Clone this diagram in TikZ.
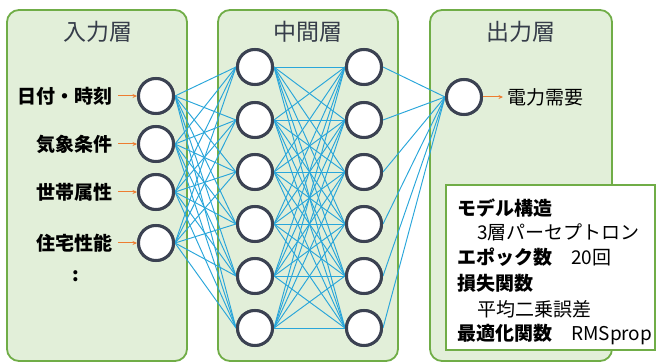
\documentclass[tikz,border=0pt]{standalone}
\usepackage{fontspec}
\setmainfont{Noto Sans CJK JP}
\usetikzlibrary{arrows.meta}
\definecolor{pfill}{HTML}{E2EFD9}
\definecolor{pborder}{HTML}{70AD47}
\definecolor{wire}{HTML}{29A6DA}
\definecolor{ring}{HTML}{3B4252}
\definecolor{arr}{HTML}{ED7D31}
\definecolor{ttl}{HTML}{363D4A}
\begin{document}
\begin{tikzpicture}[x=1pt,y=-1pt,
  panel/.style={draw=pborder, line width=1.8pt, fill=pfill, rounded corners=12pt},
  neuron/.style={circle, draw=ring, line width=3pt, fill=white, minimum size=35pt, inner sep=0pt},
  wirestyle/.style={draw=wire, line width=0.95pt},
  inarrow/.style={draw=arr, line width=1pt, -{Stealth[length=4.5pt,width=4pt]}},
  title/.style={text=ttl, font=\fontsize{23}{26}\selectfont},
  lbl/.style={text=black, font=\fontsize{19}{21}\selectfont\bfseries, inner sep=0pt},
  info/.style={anchor=west, inner sep=0pt, font=\fontsize{19}{21}\selectfont},
  infohead/.style={info, font=\fontsize{19}{21}\selectfont\bfseries},
  infobox/.style={draw=pborder, line width=1.8pt, fill=white}]
\useasboundingbox (0,0) rectangle (657,363);
% panels
\draw[panel] (7,10) rectangle (187,361);
\draw[panel] (218,10) rectangle (398,361);
\draw[panel] (430,10) rectangle (612,361);
\node[title] (t1) at (98,32) {入力層};
\node[title] (t2) at (308,32) {中間層};
\node[title] (t3) at (521,32) {出力層};
% input neurons
\foreach \i/\y in {1/96,2/144,3/192,4/243}
  \node[neuron] (i\i) at (156,\y) {};
% hidden neurons
\foreach \i/\y in {1/67,2/120,3/172,4/224,5/276,6/328} {
  \node[neuron] (h\i) at (255,\y) {};
  \node[neuron] (g\i) at (364,\y) {};
}
\node[neuron] (o) at (464,97) {};
% wires
\foreach \a in {1,...,4}
  \foreach \b in {1,...,6}
    \draw[wirestyle] (i\a.east) -- (h\b.west);
\foreach \a in {1,...,6}
  \foreach \b in {1,...,6}
    \draw[wirestyle] (h\a.east) -- (g\b.west);
\foreach \a in {1,...,6}
  \draw[wirestyle] (g\a.east) -- (o.west);
% redraw neurons on top
\foreach \i in {1,...,4} \node[neuron] at (i\i) {};
\foreach \i in {1,...,6} {\node[neuron] at (h\i) {}; \node[neuron] at (g\i) {};}
\node[neuron] at (o) {};
% input labels
\node[lbl, anchor=east] (l1) at (113,96) {日付・時刻};
\node[lbl, anchor=east] (l2) at (113,144) {気象条件};
\node[lbl, anchor=east] (l3) at (113,192) {世帯属性};
\node[lbl, anchor=east] (l4) at (113,243) {住宅性能};
\foreach \i in {1,...,4}
  \draw[inarrow, shorten <=5pt] (l\i.east) -- (i\i.west);
\node[lbl] (dots) at (76,276) {:};
% output label
\node[lbl, anchor=west, font=\fontsize{19}{21}\selectfont] (out) at (507,97) {電力需要};
\draw[inarrow, shorten >=4pt] (o.east) -- (out.west);
% info box
\draw[infobox] (446,185) rectangle (655,350);
\node[infohead] (m1) at (457,208) {モデル構造};
\node[info] (m2) at (477,232) {3層パーセプトロン};
\node[info] (m3) at (457,257) {{\bfseries エポック数}\hspace{19pt}20回};
\node[infohead] (m4) at (457,283) {損失関数};
\node[info] (m5) at (477,309) {平均二乗誤差};
\node[info] (m6) at (457,335) {{\bfseries 最適化関数}\hspace{19pt}RMSprop};
\end{tikzpicture}
\end{document}
